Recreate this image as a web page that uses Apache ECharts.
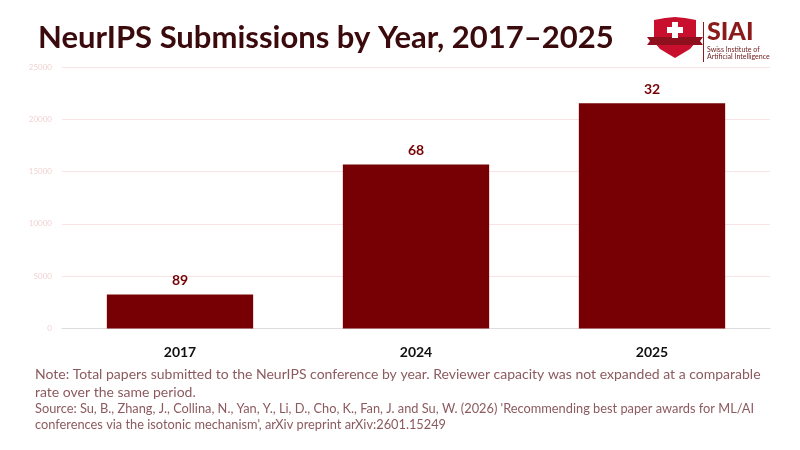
<!DOCTYPE html>
<html>
<head>
<meta charset="utf-8">
<script src="https://cdn.jsdelivr.net/npm/echarts@6/dist/echarts.min.js"></script>
<style>
html,body{margin:0;padding:0;background:#fff;}
#c{width:800px;height:450px;}
</style>
</head>
<body>
<div id="c"></div>
<script>
const categories = ['2017', '2024', '2025'];
const submissions = [3240, 15670, 21530];
const barLabels = ['89', '68', '32'];
const yTicks = [0, 5000, 10000, 15000, 20000, 25000];

const chart = echarts.init(document.getElementById('c'));
const FONT = 'Lato, "Noto Sans", sans-serif';
chart.setOption({
  backgroundColor: '#ffffff',
  animation: false,
  title: {
    text: 'NeurIPS Submissions by Year, 2017–2025',
    left: 33, top: 17,
    textStyle: { fontFamily: FONT, fontWeight: 'bold', fontSize: 31, color: '#3a0a0c' }
  },
  grid: { left: 62, right: 30, top: 67, bottom: 121.5 },
  xAxis: {
    type: 'category',
    data: categories,
    axisLine: { show: true, lineStyle: { color: '#dddddd' } },
    axisTick: { show: false },
    axisLabel: { fontFamily: FONT, fontWeight: 'bold', fontSize: 14, color: '#111111', margin: 17 }
  },
  yAxis: {
    type: 'value',
    min: yTicks[0], max: yTicks[yTicks.length - 1], interval: yTicks[1] - yTicks[0],
    axisLine: { show: false },
    axisTick: { show: false },
    splitLine: { lineStyle: { color: '#f8e4e4', width: 1 } },
    axisLabel: { fontFamily: FONT, fontSize: 8, color: '#f2d2d2', margin: 10, formatter: v => String(v) }
  },
  series: [{
    type: 'bar',
    data: submissions,
    barWidth: '62%',
    itemStyle: { color: '#760003' },
    label: {
      show: true, position: 'top', distance: 7,
      fontFamily: FONT, fontWeight: 'bold', fontSize: 14, color: '#760003',
      formatter: p => barLabels[p.dataIndex]
    }
  }],
  graphic: [
    { type: 'text', left: 35, top: 365, style: {
      text: 'Note: Total papers submitted to the NeurIPS conference by year. Reviewer capacity was not expanded at a comparable\nrate over the same period.',
      fontFamily: FONT, fontSize: 14, fill: '#8c5a5e', lineHeight: 18 } },
    { type: 'text', left: 35, top: 401, style: {
      text: "Source: Su, B., Zhang, J., Collina, N., Yan, Y., Li, D., Cho, K., Fan, J. and Su, W. (2026) 'Recommending best paper awards for ML/AI\nconferences via the isotonic mechanism', arXiv preprint arXiv:2601.15249",
      fontFamily: FONT, fontSize: 12.8, fill: '#8c5a5e', lineHeight: 16 } },
    // logo shield
    { type: 'polygon', shape: { points: [[654,20],[665,18],[675,17],[685,18],[696,20],[696,42],[690,49],[675,58],[660,49],[654,42]] }, style: { fill: '#c8102e' } },
    { type: 'polygon', shape: { points: [[647,37],[703,37],[700,41],[703,45],[647,45],[650,41]] }, style: { fill: '#8e0f1e' } },
    { type: 'rect', shape: { x: 672, y: 22, width: 6, height: 16 }, style: { fill: '#ffffff' } },
    { type: 'rect', shape: { x: 667, y: 27, width: 16, height: 6 }, style: { fill: '#ffffff' } },
    { type: 'rect', shape: { x: 703, y: 22, width: 1, height: 40 }, style: { fill: '#8b1a1a' } },
    { type: 'text', left: 707, top: 19, style: { text: 'SIAI', fontFamily: FONT, fontWeight: 900, fontSize: 25, fill: '#8b1a1a' } },
    { type: 'text', left: 707, top: 46, style: { text: 'Swiss Institute of\nArtificial Intelligence', fontFamily: FONT, fontSize: 7, fill: '#6b1a1a', lineHeight: 7 } }
  ]
});
</script>
</body>
</html>
